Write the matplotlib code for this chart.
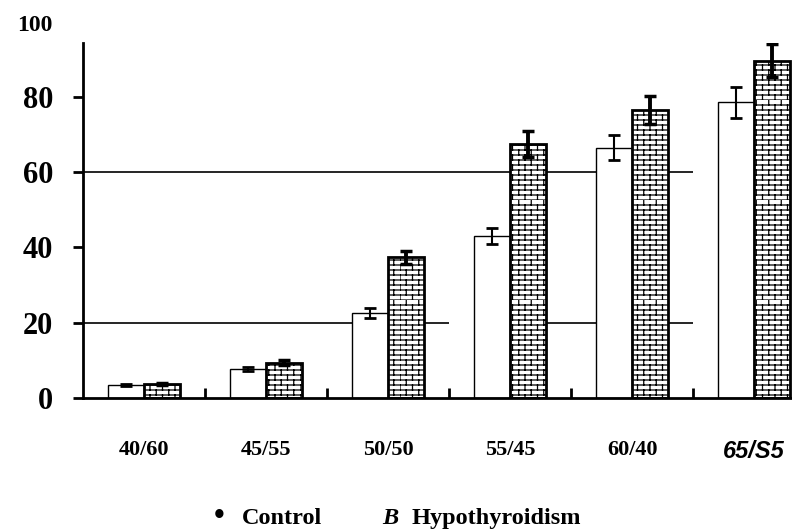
import warnings
import numpy as np
import matplotlib
matplotlib.use('Agg')
import matplotlib.pyplot as plt
import matplotlib.hatch as mhatch
from matplotlib.path import Path

warnings.simplefilter('ignore')

# data
groups = ['40/60', '45/55', '50/50', '55/45', '60/40', '65/S5']
control = [3.5, 7.6, 22.5, 43.0, 66.5, 78.5]
control_err = [0.3, 0.5, 1.3, 2.2, 3.3, 4.0]
hypo = [3.7, 9.4, 37.4, 67.5, 76.5, 89.6]
hypo_err = [0.3, 0.6, 1.7, 3.5, 3.8, 4.4]
yticks = [0, 20, 40, 60, 80]


class BrickHatch(mhatch.HatchPatternBase):
    # brick wall pattern, used when hatch contains 'b'
    def __init__(self, hatch, density):
        self.rows = 20 if 'b' in hatch else 0
        self.cols = 8
        self.num_vertices = self.rows * (2 + 2 * self.cols)

    def set_vertices_and_codes(self, vertices, codes):
        k = 0
        for r in range(self.rows):
            y0 = r / self.rows
            y1 = (r + 1) / self.rows
            vertices[k] = (0, y0)
            vertices[k + 1] = (1, y0)
            codes[k] = Path.MOVETO
            codes[k + 1] = Path.LINETO
            k += 2
            off = 0.5 / self.cols if r % 2 else 0.0
            for c in range(self.cols):
                x = c / self.cols + off
                vertices[k] = (x, y0)
                vertices[k + 1] = (x, y1)
                codes[k] = Path.MOVETO
                codes[k + 1] = Path.LINETO
                k += 2


mhatch._hatch_types.append(BrickHatch)
plt.rcParams['hatch.linewidth'] = 0.9

serif = ['Liberation Serif', 'DejaVu Serif']

fig = plt.figure(figsize=(7.92, 5.31), dpi=100)
ax = fig.add_axes([0.1048, 0.2505, 0.8952, 0.6685])

x = np.arange(len(groups))
w = 0.295

# partial reference lines behind the bars
ax.hlines(20, -0.5, 2.5, color='black', lw=1.2, zorder=1)
ax.hlines(20, 3.2, 4.5, color='black', lw=1.2, zorder=1)
ax.hlines(60, -0.5, 4.5, color='black', lw=1.2, zorder=1)

ax.bar(x - w / 2, control, w, color='white', edgecolor='black', lw=1.0, zorder=2)
ax.bar(x + w / 2, hypo, w, color='white', edgecolor='black', hatch='b', lw=2.0, zorder=2)
ax.errorbar(x - w / 2, control, yerr=control_err, fmt='none', ecolor='black',
            elinewidth=1.5, capsize=4, capthick=2, zorder=3)
ax.errorbar(x + w / 2, hypo, yerr=hypo_err, fmt='none', ecolor='black',
            elinewidth=2.8, capsize=4, capthick=2.5, zorder=3)

ax.set_xlim(-0.5, 5.31)
ax.set_ylim(0, 94.3)

for s in ['top', 'right']:
    ax.spines[s].set_visible(False)
for s in ['left', 'bottom']:
    ax.spines[s].set_linewidth(2)

ax.set_yticks(yticks)
ax.set_yticklabels([str(v) for v in yticks], family=serif, weight='bold', fontsize=22)
ax.tick_params(axis='y', direction='out', length=7.5, width=2, pad=14)
ax.annotate('100', xy=(0, 99), xycoords=('axes fraction', 'data'),
            xytext=(-22, 0), textcoords='offset points', ha='right', va='center',
            family=serif, weight='bold', fontsize=17, annotation_clip=False)

ax.set_xticks(x)
ax.set_xticks(x[:-1] + 0.5, minor=True)
ax.tick_params(axis='x', which='major', length=0, pad=30)
ax.tick_params(axis='x', which='minor', direction='in', length=7, width=2)
ax.set_xticklabels(groups, family=serif, weight='bold', fontsize=16)
last = ax.get_xticklabels()[-1]
last.set_family(['Liberation Sans', 'DejaVu Sans'])
last.set_style('italic')
last.set_fontsize(17)

# legend line written as text
base = 1 - 524 / 531
fig.text(214 / 792, base, '\u2022', family=serif, weight='bold',
         fontsize=22, ha='left', va='baseline')
fig.text(242 / 792, base, 'Control', family=serif, weight='bold',
         fontsize=17.5, ha='left', va='baseline')
fig.text(382 / 792, base, 'B', family=serif, weight='bold', style='italic',
         fontsize=17.5, ha='left', va='baseline')
fig.text(412 / 792, base, 'Hypothyroidism', family=serif, weight='bold',
         fontsize=17.5, ha='left', va='baseline')

fig.savefig('out.png', dpi=100)
